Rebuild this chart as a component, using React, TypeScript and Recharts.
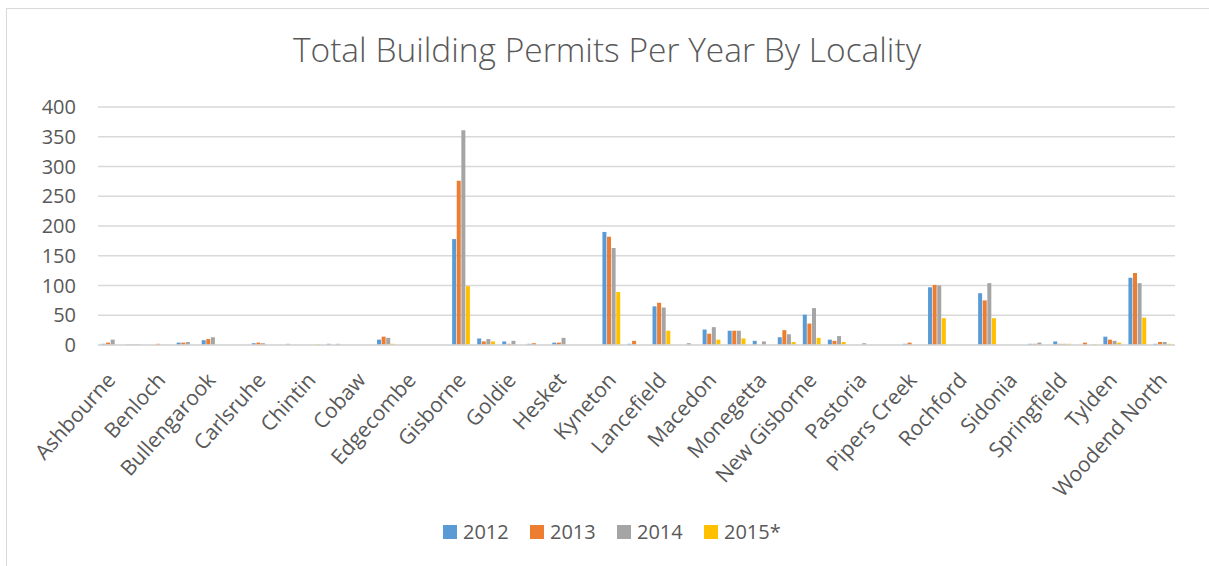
import React from "react";
import { BarChart, Bar, XAxis, YAxis, CartesianGrid, Legend } from "recharts";

const localities = [
  "Ashbourne", "Baynton", "Benloch", "Bolinda", "Bullengarook", "Bylands",
  "Carlsruhe", "Cherokee", "Chintin", "Clarkefield", "Cobaw", "Darraweit Guim",
  "Edgecombe", "Emu Flat", "Gisborne", "Gisborne South", "Goldie", "Hanging Rock",
  "Hesket", "Kerrie", "Kyneton", "Kyneton South", "Lancefield", "Lauriston",
  "Macedon", "Malmsbury", "Monegetta", "Mount Macedon", "New Gisborne", "Newham",
  "Pastoria", "Pastoria East", "Pipers Creek", "Riddells Creek", "Rochford", "Romsey",
  "Sidonia", "Spring Hill", "Springfield", "Taradale", "Tylden", "Woodend",
  "Woodend North",
];

const permits2012 = [
  2, 1, 0, 4, 8, 0, 3, 0, 0, 2, 0, 9, 0, 0, 178, 11, 6, 2, 4, 0, 190, 2,
  65, 0, 26, 24, 7, 13, 51, 9, 0, 0, 2, 97, 0, 87, 0, 2, 6, 0, 14, 113, 2,
];
const permits2013 = [
  4, 1, 2, 4, 10, 0, 4, 0, 0, 0, 0, 14, 0, 0, 276, 6, 2, 3, 4, 0, 182, 7,
  71, 0, 19, 24, 0, 25, 36, 7, 0, 0, 4, 101, 0, 75, 0, 2, 2, 4, 9, 121, 5,
];
const permits2014 = [
  9, 1, 0, 5, 13, 0, 3, 2, 0, 2, 0, 12, 0, 0, 361, 10, 7, 0, 12, 0, 163, 0,
  63, 3, 30, 24, 6, 18, 62, 15, 3, 0, 0, 100, 0, 104, 0, 4, 2, 0, 7, 104, 5,
];
const permits2015 = [
  0, 0, 0, 0, 0, 0, 0, 0, 1, 0, 0, 2, 0, 0, 99, 6, 0, 0, 0, 0, 89, 0,
  24, 0, 9, 11, 0, 5, 12, 5, 0, 0, 0, 45, 0, 45, 0, 0, 2, 1, 4, 46, 2,
];

const yTicks = [0, 50, 100, 150, 200, 250, 300, 350, 400];

const seriesNames = ["2012", "2013", "2014", "2015*"];
const seriesColors = ["#5B9BD5", "#ED7D31", "#A5A5A5", "#FFC000"];

const data = localities.map((name, i) => ({
  name,
  s2012: permits2012[i],
  s2013: permits2013[i],
  s2014: permits2014[i],
  s2015: permits2015[i],
}));

const seriesKeys = ["s2012", "s2013", "s2014", "s2015"];

const FONT = "'Open Sans', 'Noto Sans', sans-serif";
const TEXT = "#595959";

const XTick = (props: any) => {
  const { x, y, payload } = props;
  const ax = x + 6;
  const ay = y + 28;
  return (
    <text
      x={ax}
      y={ay}
      textAnchor="end"
      fill={TEXT}
      fontSize={21}
      fontFamily={FONT}
      transform={`rotate(-48, ${ax}, ${ay})`}
    >
      {payload.value}
    </text>
  );
};

const LegendContent = () => (
  <div style={{ display: "flex", fontFamily: FONT, fontSize: 20, color: TEXT }}>
    {seriesNames.map((n, i) => (
      <div key={n} style={{ display: "flex", alignItems: "center", width: 87 }}>
        <div style={{ width: 14, height: 14, background: seriesColors[i], marginRight: 6 }} />
        <span>{n}</span>
      </div>
    ))}
  </div>
);

export default function App() {
  return (
    <div
      style={{
        position: "absolute",
        left: 0,
        top: 0,
        width: 1209,
        height: 566,
        background: "#fff",
        overflow: "hidden",
        fontFamily: FONT,
      }}
    >
      <div
        style={{
          position: "absolute",
          left: 6,
          top: 8,
          width: 1230,
          height: 600,
          borderLeft: "1.5px solid #D9D9D9",
          borderTop: "1.5px solid #D9D9D9",
        }}
      />
      <div
        style={{
          position: "absolute",
          left: 0,
          width: 1214,
          top: 26,
          textAlign: "center",
          fontSize: 33.5,
          lineHeight: "normal",
          color: TEXT,
          fontFamily: FONT,
          fontWeight: 300,
        }}
      >
        Total Building Permits Per Year By Locality
      </div>
      <BarChart
        width={1209}
        height={566}
        data={data}
        margin={{ top: 107, right: 34, left: 0, bottom: 91 }}
        barCategoryGap={3.5}
        barGap={0.6}
        style={{ position: "absolute", left: 0, top: 0 }}
      >
        <CartesianGrid vertical={false} stroke="#D9D9D9" strokeWidth={1.3} />
        <XAxis
          dataKey="name"
          interval={1}
          tick={<XTick />}
          tickLine={false}
          axisLine={{ stroke: "#D9D9D9", strokeWidth: 1.3 }}
          height={130}
        />
        <YAxis
          domain={[0, 400]}
          ticks={yTicks}
          width={98}
          tickSize={0}
          tickMargin={22}
          axisLine={false}
          tickLine={false}
          tick={{ fill: TEXT, fontSize: 20, fontFamily: FONT }}
        />
        <Legend
          layout="horizontal"
          verticalAlign="middle"
          align="center"
          content={<LegendContent />}
          wrapperStyle={{ top: 518, left: 443, width: 400 }}
        />
        {seriesKeys.map((k, i) => (
          <Bar
            key={k}
            dataKey={k}
            name={seriesNames[i]}
            fill={seriesColors[i]}
            isAnimationActive={false}
          />
        ))}
      </BarChart>
    </div>
  );
}
